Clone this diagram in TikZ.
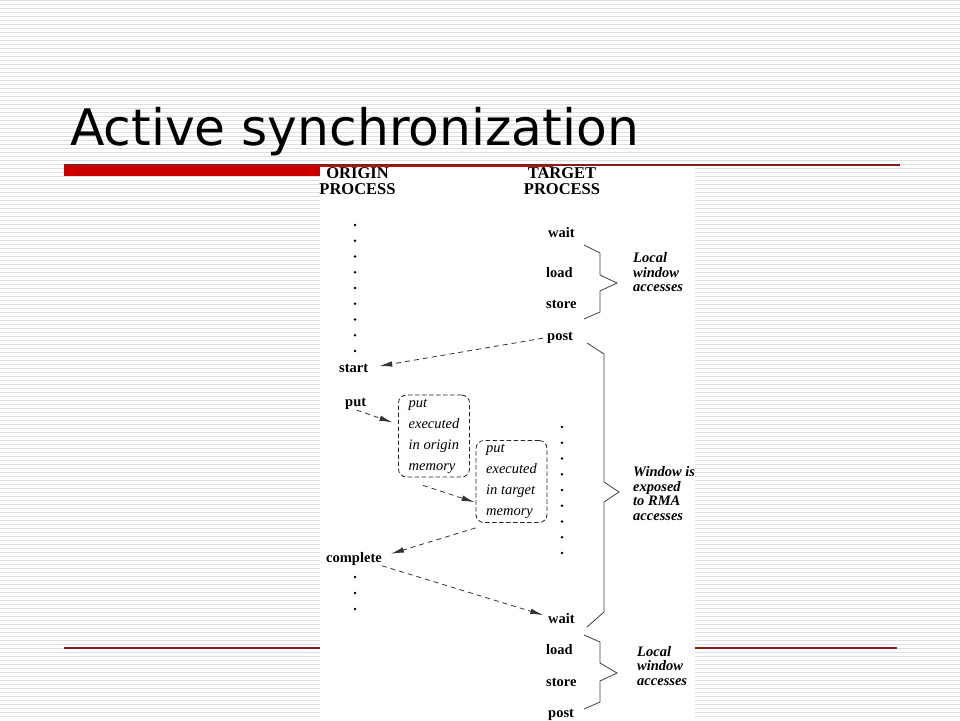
\documentclass[tikz,border=0pt]{standalone}
\usepackage{fontspec}
\setmainfont{Liberation Serif}
\newfontfamily\slidefont{DejaVu Sans}
\usetikzlibrary{arrows.meta}
\definecolor{slidered}{HTML}{CC0000}
\definecolor{rulered}{HTML}{8B1A1A}

\begin{document}
\begin{tikzpicture}[x=1pt, y=-1pt,
      stripe/.style={draw=gray!25, line width=1pt},
      head/.style={inner sep=0pt, align=center, font=\bfseries\fontsize{16.5}{16}\selectfont},
      proc/.style={inner sep=0pt, anchor=base west, font=\bfseries\fontsize{14.5}{16}\selectfont},
      membox/.style={draw=black!85, line width=0.8pt, dash pattern=on 4.5pt off 2.5pt, rounded corners=8pt, minimum width=71pt, minimum height=82pt, inner sep=0pt, align=left, font=\itshape\fontsize{14.5}{21}\selectfont},
      note/.style={inner sep=0pt, anchor=west, align=left, font=\bfseries\itshape\fontsize{14.5}{14.5}\selectfont},
      msg/.style={draw=black!80, line width=0.8pt, dash pattern=on 5pt off 4pt, -{Latex[length=13pt,width=5.5pt]}},
      brace/.style={draw=black!75, line width=0.8pt}]

  \useasboundingbox (0,0) rectangle (960,720);

  % Slide background
  \foreach \y in {0.5,4.5,...,720} {
    \draw[stripe] (0,\y) -- (960,\y);
  }
  \fill[slidered] (64,165.5) rectangle (553,176);
  \draw[rulered, line width=1.5pt] (64,165) -- (900,165);
  \draw[rulered, line width=1.5pt] (64,648) -- (897,648);
  \node[anchor=base west, inner sep=0pt, font=\slidefont\fontsize{50.3}{60}\selectfont] (title) at (70,145) {Active synchronization};

  % Figure
  \fill[white] (320,167) rectangle (695,720);

  \node[head] (orighead) at (357.5,181) {ORIGIN\\PROCESS};
  \node[head] (targhead) at (562,181) {TARGET\\PROCESS};

  \node[proc] (start) at (339,372) {start};
  \node[proc] (put) at (345,406.5) {put};
  \node[proc] (complete) at (326,562.5) {complete};

  \node[proc] (wait) at (548,237.5) {wait};
  \node[proc] (load) at (546,277) {load};
  \node[proc] (store) at (546,308) {store};
  \node[proc] (post) at (547,340) {post};
  \node[proc] (wait2) at (548,623) {wait};
  \node[proc] (load2) at (546,654) {load};
  \node[proc] (store2) at (546,686.5) {store};
  \node[proc] (post2) at (548,717) {post};

  \node[membox] (origmem) at (434,436) {put\\executed\\in origin\\memory};
  \node[membox] (targmem) at (511.5,481.5) {put\\executed\\in target\\memory};

  \node[note] (local1) at (633,272.5) {Local\\window\\accesses};
  \node[note] (expose) at (633,493.5) {Window is\\exposed\\to RMA\\accesses};
  \node[note] (local2) at (637,666) {Local\\window\\accesses};

  % Dots
  \foreach \k in {0,...,8} {
    \fill (355,{225+15.75*\k}) circle (1.3pt);
    \fill (562,{427+15.75*\k}) circle (1.3pt);
  }
  \foreach \y in {577,593,609} {
    \fill (355,\y) circle (1.3pt);
  }

  % Arrows
  \draw[msg, shorten <=4pt, shorten >=11pt] (post.west) -- (start.east);
  \draw[msg, shorten <=1pt, shorten >=6pt] (put.south) -- (origmem.162);
  \draw[msg, shorten >=1pt] ([xshift=-11pt,yshift=-8pt]origmem.south) -- ([yshift=-21pt]targmem.west);
  \draw[msg] ([yshift=-5pt]targmem.south west) -- ([xshift=9pt,yshift=-1.5pt]complete.north east);
  \draw[msg, shorten >=5pt] (complete.south east) -- ([yshift=1.5pt]wait2.west);

  % Braces
  \draw[brace] (584,245) -- ++(16,8) -- ++(0,22) -- ++(17,8) -- ++(-17,8) -- ++(0,21) -- ++(-16,7);
  \draw[brace] (587,343) -- ++(17,11) -- ++(0,128) -- ++(15,10) -- ++(-15,10) -- ++(0,110) -- ++(-17,15);
  \draw[brace] (584,635) -- ++(16,7) -- ++(0,21) -- ++(17,10) -- ++(-17,8) -- ++(0,21) -- ++(-16,7);
\end{tikzpicture}
\end{document}
